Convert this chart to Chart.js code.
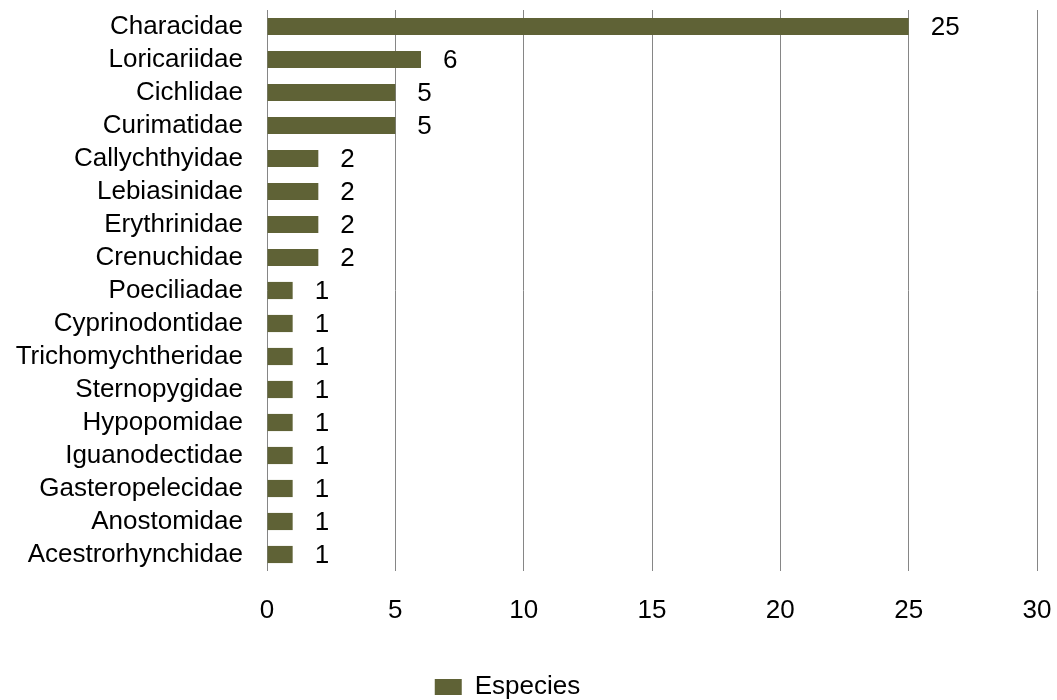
<!DOCTYPE html>
<html>
<head>
<meta charset="utf-8">
<script src="https://cdn.jsdelivr.net/npm/chart.js@4/dist/chart.umd.min.js"></script>
<style>
  html, body { margin: 0; padding: 0; background: #fff; }
  #wrap { width: 1057px; height: 700px; }
</style>
</head>
<body>
<div id="wrap"><canvas id="bar-chart" width="1057" height="700"></canvas></div>
<script>
var familias = ["Characidae", "Loricariidae", "Cichlidae", "Curimatidae", "Callychthyidae",
  "Lebiasinidae", "Erythrinidae", "Crenuchidae", "Poeciliadae", "Cyprinodontidae",
  "Trichomychtheridae", "Sternopygidae", "Hypopomidae", "Iguanodectidae",
  "Gasteropelecidae", "Anostomidae", "Acestrorhynchidae"];
var especies = [25, 6, 5, 5, 2, 2, 2, 2, 1, 1, 1, 1, 1, 1, 1, 1, 1];
var ejeX = [0, 5, 10, 15, 20, 25, 30];

var fuente = "'Liberation Sans', Arial, sans-serif";
Chart.defaults.font.family = fuente;
Chart.defaults.font.size = 26;
Chart.defaults.color = "#000";

// escribe el numero de especies al lado de cada barra
var etiquetas = {
  id: "etiquetas",
  afterDatasetsDraw: function(chart){
    var ctx = chart.ctx;
    var meta = chart.getDatasetMeta(0);
    ctx.save();
    ctx.font = "26px " + fuente;
    ctx.fillStyle = "#000";
    ctx.textAlign = "left";
    ctx.textBaseline = "middle";
    meta.data.forEach(function(barra, i){
      ctx.fillText(especies[i], barra.x + 22, barra.y + 1);
    });
    ctx.restore();
  }
};

var barra = new Chart(document.getElementById("bar-chart"), {
  type: "bar",
  data: {
    labels: familias,
    datasets: [{
      label: "Especies",
      data: especies,
      backgroundColor: "#5f6236",
      barPercentage: 0.52,
      categoryPercentage: 1
    }]
  },
  options: {
    indexAxis: "y",
    responsive: false,
    animation: false,
    // margen izquierdo negativo para que la leyenda quede algo a la izquierda
    layout: { padding: { top: 10, right: 20, bottom: -10, left: -22 } },
    plugins: {
      legend: {
        position: "bottom",
        labels: { boxWidth: 27, boxHeight: 16, padding: 2, color: "#000" }
      },
      tooltip: { enabled: false }
    },
    scales: {
      x: {
        min: 0, max: 30,
        afterBuildTicks: function(eje){ eje.ticks = ejeX.map(function(v){ return { value: v }; }); },
        grid: { color: "#868686", lineWidth: 1, drawTicks: false },
        border: { display: false },
        ticks: { padding: 24, color: "#000" },
        afterFit: function(eje){
          eje.height = 101;
          eje.paddingLeft = 0;
          eje.paddingRight = 0;
        }
      },
      y: {
        grid: { display: false, drawTicks: false },
        border: { display: false },
        ticks: { padding: 24, color: "#000", autoSkip: false },
        afterFit: function(eje){
          eje.width = 289;
          eje.paddingTop = 0;
          eje.paddingBottom = 0;
        }
      }
    }
  },
  plugins: [etiquetas]
});
</script>
</body>
</html>
